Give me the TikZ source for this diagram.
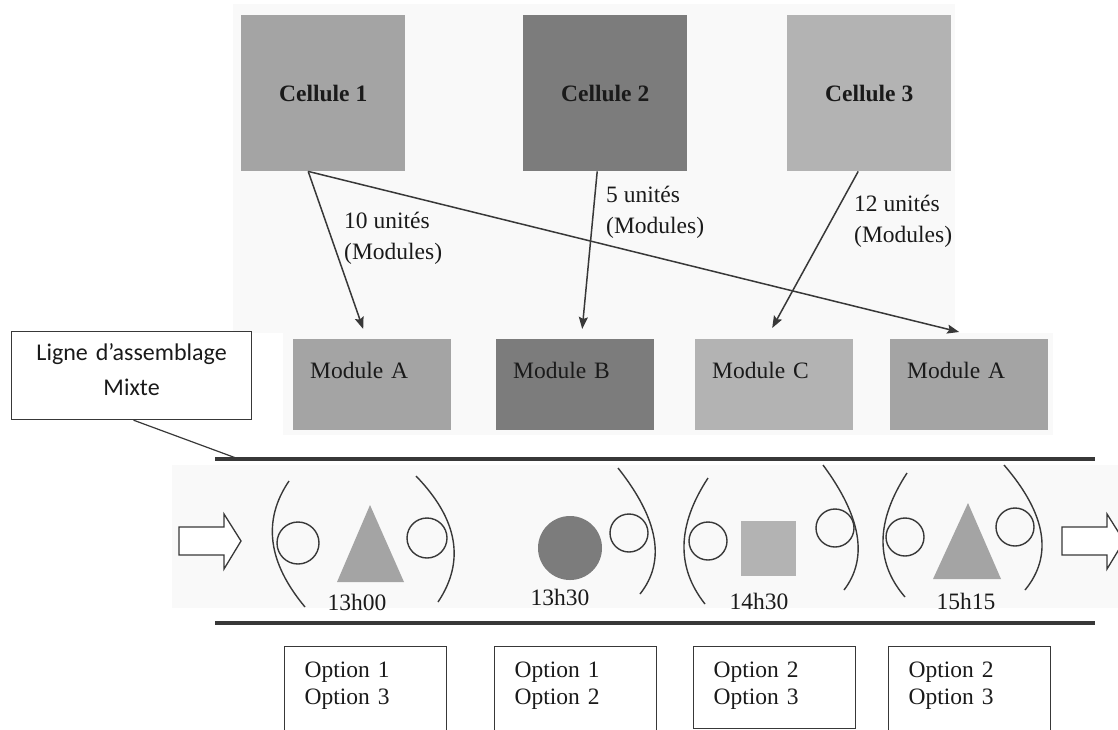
\documentclass[tikz,border=0pt]{standalone}
\usepackage{fontspec}
\setmainfont{Liberation Serif}
\newfontfamily\calibfont{Carlito}
\usetikzlibrary{arrows.meta}

\definecolor{inkc}{HTML}{1A1A1A}
\definecolor{linec}{HTML}{383838}
\definecolor{midgray}{HTML}{A4A4A4}
\definecolor{darkgray2}{HTML}{7C7C7C}
\definecolor{lightgray2}{HTML}{B3B3B3}
\definecolor{paper}{HTML}{F9F9F9}

\begin{document}
\begin{tikzpicture}[x=1pt,y=-1pt,
  cell/.style={anchor=north west, minimum width=164pt, minimum height=156pt,
    inner sep=0pt, text=inkc, font=\fontsize{23.5}{28}\selectfont\bfseries},
  module/.style={anchor=north west, inner xsep=17pt, inner ysep=0pt,
    text width=124pt, align=left, text height=39pt, text depth=52pt,
    text=inkc, font=\fontsize{23.5}{28}\selectfont},
  qty/.style={anchor=west, align=left, inner sep=0pt, text=inkc,
    font=\fontsize{23.5}{31}\selectfont},
  conn/.style={draw=linec, line width=1.5pt,
    -{Stealth[length=12pt,width=9pt,inset=2pt]}},
  lbox/.style={anchor=north west, draw=linec, line width=1.2pt, fill=white,
    text width=240pt, align=center, inner sep=0pt, text height=29pt,
    text depth=59pt, text=inkc, font=\calibfont\fontsize{24}{35}\selectfont},
  lead/.style={draw=linec, line width=1.2pt},
  bar/.style={draw=linec, line width=3.5pt},
  hollow/.style={draw=linec, line width=1.3pt, fill=white, line join=miter},
  paren/.style={draw=linec, line width=1.4pt},
  ring/.style={circle, draw=linec, line width=1.4pt, inner sep=0pt},
  timelbl/.style={inner sep=0pt, text=inkc, font=\fontsize{23.5}{28}\selectfont},
  optbox/.style={anchor=north west, draw=linec, line width=1.3pt, fill=white,
    inner xsep=20pt, inner ysep=0pt, text width=122pt, align=left,
    text height=31pt, text depth=64pt, text=inkc,
    font=\fontsize{23.5}{27}\selectfont}
]
\useasboundingbox (0,0) rectangle (1118,729);
\clip (0,0) rectangle (1118,729);

% faint panels behind the figure parts
\fill[paper] (233,4) rectangle (955,333);
\fill[paper] (283,333) rectangle (1053,435);
\fill[paper] (172,465) rectangle (1118,608);

% production cells
\node[cell, fill=midgray]    (c1) at (241,15) {Cellule 1};
\node[cell, fill=darkgray2]  (c2) at (523,15) {Cellule 2};
\node[cell, fill=lightgray2] (c3) at (787,15) {Cellule 3};

% modules
\node[module, fill=midgray]    (mA)  at (293,339) {Module A};
\node[module, fill=darkgray2]  (mB)  at (496,339) {Module B};
\node[module, fill=lightgray2] (mC)  at (695,339) {Module C};
\node[module, fill=midgray]    (mA2) at (890,339) {Module A};

% supply arrows
\draw[conn] ([xshift=-15pt]c1.south) -- ([xshift=-9pt,yshift=10pt]mA.north);
\draw[conn] ([xshift=-15pt]c1.south) -- ([xshift=-10pt,yshift=7pt]mA2.north);
\draw[conn] ([xshift=-8pt]c2.south) -- ([xshift=7pt,yshift=10pt]mB.north);
\draw[conn] ([xshift=-11pt]c3.south) -- ([xshift=-2pt,yshift=11pt]mC.north);

% quantities
\node[qty] (q1) at (344,238) {10 unités\\(Modules)};
\node[qty] (q2) at (606,212) {5 unités\\(Modules)};
\node[qty] (q3) at (854,221) {12 unités\\(Modules)};

% call-out for the line
\node[lbox] (lb) at (11,331) {Ligne d’assemblage\\Mixte};
\coordinate (lineend) at (236,458);
\draw[lead] ([xshift=2pt]lb.south) -- (lineend);

% conveyor rails
\coordinate (railTL) at (215,459);
\coordinate (railTR) at (1095,459);
\coordinate (railBL) at (215,623);
\coordinate (railBR) at (1095,623);
\draw[bar] (railTL) -- (railTR);
\draw[bar] (railBL) -- (railBR);

% flow direction
\draw[hollow] (179,527) -- (224,527) -- (224,514) -- (241,541) -- (224,569)
  -- (224,555) -- (179,555) -- cycle;
\draw[hollow] (1062,527) -- (1107,527) -- (1107,514) -- (1124,541) -- (1107,569)
  -- (1107,555) -- (1062,555) -- cycle;

% stations: brackets
\draw[paren] (289,481) .. controls (262.3,520.3) and (267.7,562.3) .. (305,607);
\draw[paren] (416,476) .. controls (458,519.3) and (465.3,561.3) .. (438,602);
\draw[paren] (618,468) .. controls (658.7,519.3) and (666,561.3) .. (640,594);
\draw[paren] (708,478) .. controls (677,525.3) and (676,567.3) .. (705,604);
\draw[paren] (823,465) .. controls (861.3,516.7) and (868.3,558.3) .. (844,590);
\draw[paren] (907,473) .. controls (875.7,521) and (875,562.3) .. (905,597);
\draw[paren] (1004,465) .. controls (1046.3,514) and (1053.3,555.7) .. (1025,590);

% stations: option rings
\node[ring, minimum size=42pt] (r1) at (298,543) {};
\node[ring, minimum size=40pt] (r2) at (427,538) {};
\node[ring, minimum size=38pt] (r3) at (629,533) {};
\node[ring, minimum size=38pt] (r4) at (708,541) {};
\node[ring, minimum size=38pt] (r5) at (835,528) {};
\node[ring, minimum size=38pt] (r6) at (905,537) {};
\node[ring, minimum size=38pt] (r7) at (1015,527) {};

% products on the line
\fill[midgray] (337,582) -- (404,582) -- (370,505) -- cycle;
\node[circle, fill=darkgray2, minimum size=64pt, inner sep=0pt] (p2) at (570,548) {};
\node[fill=lightgray2, minimum size=55pt, inner sep=0pt] (p3) at (768.5,548) {};
\fill[midgray] (933,579) -- (1001,579) -- (968,503) -- cycle;

% times
\node[timelbl] (t1) at (357,602) {13h00};
\node[timelbl] (t2) at (560,597) {13h30};
\node[timelbl] (t3) at (759,601) {14h30};
\node[timelbl] (t4) at (966,601) {15h15};

% options
\node[optbox] (o1) at (284,646) {Option 1\\Option 3};
\node[optbox] (o2) at (494,646) {Option 1\\Option 2};
\node[optbox, text depth=51pt] (o3) at (693,646) {Option 2\\Option 3};
\node[optbox] (o4) at (888,646) {Option 2\\Option 3};
\end{tikzpicture}
\end{document}
